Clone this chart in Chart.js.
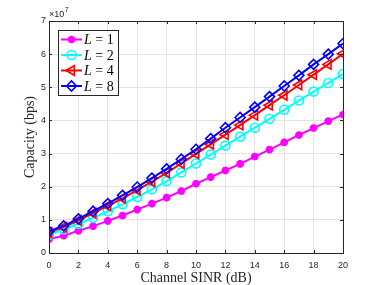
<!DOCTYPE html>
<html lang="en">
  <head>
    <meta charset="UTF-8" />
    <title>Capacity vs SINR</title>
    <script src="https://cdn.jsdelivr.net/npm/chart.js"></script>
    <style>
      html, body { margin: 0; padding: 0; background: #fff; }
      #wrap { width: 379px; height: 285px; }
    </style>
  </head>
  <body>
    <div id="wrap"><canvas id="myChart"></canvas></div>

    <script>
      // SINR in dB, capacity in units of 1e7 bps
      const sinrDb = [0, 1, 2, 3, 4, 5, 6, 7, 8, 9, 10, 11, 12, 13, 14, 15, 16, 17, 18, 19, 20];
      const capL1 = [0.42, 0.52, 0.67, 0.81, 0.97, 1.13, 1.31, 1.49, 1.67, 1.87, 2.09, 2.29, 2.49, 2.69, 2.91, 3.12, 3.34, 3.56, 3.77, 3.98, 4.18];
      const capL2 = [0.55, 0.71, 0.88, 1.06, 1.26, 1.47, 1.69, 1.92, 2.17, 2.43, 2.70, 2.97, 3.24, 3.51, 3.78, 4.05, 4.32, 4.60, 4.87, 5.13, 5.40];
      const capL4 = [0.62, 0.78, 0.98, 1.20, 1.42, 1.65, 1.90, 2.15, 2.42, 2.70, 2.99, 3.28, 3.57, 3.86, 4.16, 4.46, 4.76, 5.07, 5.38, 5.69, 6.01];
      const capL8 = [0.66, 0.82, 1.03, 1.26, 1.49, 1.74, 1.99, 2.26, 2.54, 2.83, 3.13, 3.45, 3.78, 4.09, 4.40, 4.72, 5.04, 5.36, 5.69, 6.00, 6.32];
      const seriesNames = ["1", "2", "4", "8"];
      const xTicks = [0, 2, 4, 6, 8, 10, 12, 14, 16, 18, 20];
      const yTicks = [0, 1, 2, 3, 4, 5, 6, 7];
      const yExponent = "7";

      const axisColor = "#262626";
      const serif = '"Liberation Serif", "DejaVu Serif", serif';
      const sans = '"Liberation Sans", Arial, sans-serif';

      const styles = [
        { color: "#ff00ff", pointStyle: "star", radius: 3.8, rotation: 0, fill: "#ff00ff", bw: 2.6 },
        { color: "#00ffff", pointStyle: "circle", radius: 4.5, rotation: 0, fill: "rgba(0,0,0,0)", bw: 1.6 },
        { color: "#ff0000", pointStyle: "triangle", radius: 5.5, rotation: -90, fill: "rgba(0,0,0,0)", bw: 1.6 },
        { color: "#0000ff", pointStyle: "rectRot", radius: 5, rotation: 0, fill: "rgba(0,0,0,0)", bw: 1.6 },
      ];
      const allCaps = [capL1, capL2, capL4, capL8];

      const datasets = allCaps.map((vals, i) => ({
        label: "L = " + seriesNames[i],
        data: vals.map((v, k) => ({ x: sinrDb[k], y: v })),
        borderColor: styles[i].color,
        backgroundColor: styles[i].fill,
        borderWidth: 2,
        pointStyle: styles[i].pointStyle,
        pointRadius: styles[i].radius,
        pointRotation: styles[i].rotation,
        pointBorderWidth: styles[i].bw,
        pointBackgroundColor: styles[i].fill,
        pointBorderColor: styles[i].color,
        tension: 0,
        order: 3 - i,
      }));

      // MATLAB style box, inward ticks, exponent and legend
      const matlabBox = {
        id: "matlabBox",
        afterDatasetsDraw(chart) {
          const { ctx, chartArea: a, scales } = chart;
          const x = scales.x, y = scales.y;
          ctx.save();
          ctx.strokeStyle = axisColor;
          ctx.lineWidth = 1;
          ctx.strokeRect(Math.round(a.left) + 0.5, Math.round(a.top) + 0.5,
            Math.round(a.right - a.left), Math.round(a.bottom - a.top));
          ctx.beginPath();
          xTicks.forEach((v) => {
            const px = Math.round(x.getPixelForValue(v)) + 0.5;
            ctx.moveTo(px, a.bottom); ctx.lineTo(px, a.bottom - 3);
            ctx.moveTo(px, a.top); ctx.lineTo(px, a.top + 3);
          });
          yTicks.forEach((v) => {
            const py = Math.round(y.getPixelForValue(v)) + 0.5;
            ctx.moveTo(a.left, py); ctx.lineTo(a.left + 3, py);
            ctx.moveTo(a.right, py); ctx.lineTo(a.right - 3, py);
          });
          ctx.stroke();

          // x10^7
          ctx.fillStyle = axisColor;
          ctx.textBaseline = "alphabetic";
          ctx.textAlign = "left";
          ctx.font = "9px " + sans;
          ctx.fillText("\u00d710", a.left, a.top - 4);
          const w = ctx.measureText("\u00d710").width;
          ctx.font = "7px " + sans;
          ctx.fillText(yExponent, a.left + 0.5 + w, a.top - 9);

          // legend
          const lx = 58, ly = 30, lw = 60, lh = 65;
          ctx.fillStyle = "#fff";
          ctx.fillRect(lx, ly, lw, lh);
          ctx.strokeStyle = axisColor;
          ctx.lineWidth = 1;
          ctx.strokeRect(lx + 0.5, ly + 0.5, lw, lh);
          chart.data.datasets.forEach((ds, i) => {
            const cy = ly + 9.5 + i * 15.5;
            const st = styles[i];
            ctx.strokeStyle = st.color;
            ctx.lineWidth = 2;
            ctx.beginPath();
            ctx.moveTo(lx + 3, cy); ctx.lineTo(lx + 24, cy);
            ctx.stroke();
            ctx.fillStyle = st.fill;
            ctx.lineWidth = st.bw;
            Chart.helpers.drawPoint(ctx, {
              pointStyle: st.pointStyle, rotation: st.rotation,
              radius: st.radius, borderWidth: st.bw,
            }, lx + 13.5, cy);
            ctx.fillStyle = "#000";
            ctx.textBaseline = "middle";
            ctx.font = "italic 14px " + serif;
            ctx.fillText("L", lx + 26, cy + 1);
            const lw2 = ctx.measureText("L").width;
            ctx.font = "14px " + serif;
            ctx.fillText(" = " + seriesNames[i], lx + 26 + lw2, cy + 1);
          });
          ctx.restore();
        },
      };

      const config = {
        type: "line",
        data: { datasets: datasets },
        options: {
          responsive: true,
          maintainAspectRatio: false,
          animation: false,
          layout: { padding: { top: 21, right: 36, left: 0, bottom: 0 } },
          plugins: { legend: { display: false }, tooltip: { enabled: false } },
          scales: {
            x: {
              type: "linear",
              min: 0,
              max: 20,
              afterFit: (s) => { s.height = 32; },
              afterBuildTicks: (s) => { s.ticks = xTicks.map((v) => ({ value: v })); },
              ticks: {
                color: axisColor,
                padding: 7,
                font: { family: sans, size: 9 },
              },
              grid: { color: "#e3e3e3", drawTicks: false },
              border: { display: false },
              title: {
                display: true,
                text: "Channel SINR (dB)",
                color: axisColor,
                font: { family: serif, size: 14, lineHeight: 1 },
                padding: { top: 0, bottom: 0 },
              },
            },
            y: {
              min: 0,
              max: 7,
              afterFit: (s) => { s.width = 49; },
              afterBuildTicks: (s) => { s.ticks = yTicks.map((v) => ({ value: v })); },
              ticks: {
                color: axisColor,
                padding: 3,
                font: { family: sans, size: 9 },
              },
              grid: { color: "#e3e3e3", drawTicks: false },
              border: { display: false },
              title: {
                display: true,
                text: "Capacity (bps)",
                color: axisColor,
                font: { family: serif, size: 14 },
                padding: { top: 22, bottom: 0 },
              },
            },
          },
        },
        plugins: [matlabBox],
      };

      const myChart = new Chart(document.getElementById("myChart"), config);
    </script>
  </body>
</html>
